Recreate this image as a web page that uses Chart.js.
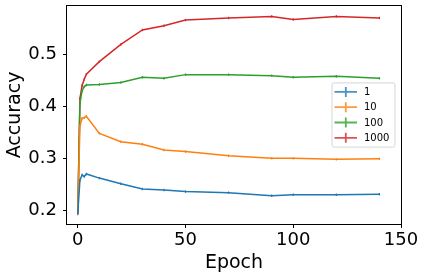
<!DOCTYPE html>
<html><head><meta charset="utf-8">
<script src="https://cdn.jsdelivr.net/npm/chart.js@4"></script>
<style>html,body{margin:0;padding:0;background:#fff}</style>
</head><body>
<canvas id="c" width="424" height="279" style="width:424px;height:279px;display:block"></canvas>
<script>
const epochs = [0, 1, 2, 3, 4, 10, 20, 30, 40, 50, 70, 90, 100, 120, 140];
const acc1    = [0.195, 0.258, 0.268, 0.265, 0.270, 0.262, 0.251, 0.241, 0.239, 0.236, 0.234, 0.228, 0.230, 0.230, 0.231];
const acc10   = [0.195, 0.362, 0.377, 0.378, 0.381, 0.348, 0.332, 0.327, 0.316, 0.313, 0.305, 0.300, 0.300, 0.298, 0.299];
const acc100  = [0.195, 0.405, 0.430, 0.438, 0.441, 0.442, 0.446, 0.456, 0.454, 0.461, 0.461, 0.459, 0.456, 0.458, 0.454];
const acc1000 = [0.193, 0.415, 0.440, 0.452, 0.462, 0.486, 0.519, 0.547, 0.555, 0.566, 0.570, 0.573, 0.567, 0.573, 0.570];
const seriesLabels = ['1', '10', '100', '1000'];
const seriesValues = [acc1, acc10, acc100, acc1000];
const colors = ['#1f77b4', '#ff7f0e', '#2ca02c', '#d62728'];
const xTicks = [0, 50, 100, 150];
const yTicks = [0.2, 0.3, 0.4, 0.5];
const xLabel = 'Epoch';
const yLabel = 'Accuracy';

const FONT = "'DejaVu Sans', sans-serif";

const datasets = seriesValues.map((vals, i) => ({
  label: seriesLabels[i],
  data: epochs.map((e, j) => ({x: e, y: vals[j]})),
  borderColor: colors[i],
  backgroundColor: colors[i],
  borderWidth: 1.5,
  pointStyle: 'line',
  rotation: 90,
  pointRadius: 1.2,
  pointBorderWidth: 1.2,
  tension: 0,
  fill: false
}));

const frameAndLegend = {
  id: 'frameAndLegend',
  afterDatasetsDraw(chart) {
    const ctx = chart.ctx, a = chart.chartArea;
    ctx.save();
    ctx.strokeStyle = '#000';
    ctx.lineWidth = 1;
    ctx.strokeRect(Math.round(a.left) - 0.5, Math.round(a.top) - 0.5, Math.round(a.right - a.left) + 1, Math.round(a.bottom - a.top) + 1);
    // legend (center right)
    const ds = chart.data.datasets;
    const rowH = 15.3, fs = 10;
    const w = 63, h = rowH * ds.length + 3;
    const x1 = a.right - 6 - w, y1 = (a.top + a.bottom) / 2 - h / 2;
    ctx.beginPath();
    const r = 2;
    ctx.moveTo(x1 + r, y1);
    ctx.arcTo(x1 + w, y1, x1 + w, y1 + h, r);
    ctx.arcTo(x1 + w, y1 + h, x1, y1 + h, r);
    ctx.arcTo(x1, y1 + h, x1, y1, r);
    ctx.arcTo(x1, y1, x1 + w, y1, r);
    ctx.closePath();
    ctx.fillStyle = 'rgba(255,255,255,0.8)';
    ctx.fill();
    ctx.strokeStyle = 'rgba(204,204,204,0.8)';
    ctx.lineWidth = 1;
    ctx.stroke();
    ctx.font = fs + 'px ' + FONT;
    ctx.textBaseline = 'middle';
    ds.forEach((d, i) => {
      const cy = y1 + 9 + i * rowH;
      ctx.globalAlpha = 0.8;
      ctx.strokeStyle = d.borderColor;
      ctx.lineWidth = 1.8;
      ctx.beginPath();
      ctx.moveTo(x1 + 2.5, cy); ctx.lineTo(x1 + 25, cy);
      ctx.moveTo(x1 + 13.8, cy - 5); ctx.lineTo(x1 + 13.8, cy + 5);
      ctx.stroke();
      ctx.globalAlpha = 1;
      ctx.fillStyle = '#000';
      ctx.fillText(d.label, x1 + 32, cy + 0.5);
    });
    ctx.restore();
  }
};

new Chart(document.getElementById('c'), {
  type: 'line',
  data: { datasets },
  options: {
    responsive: false,
    animation: false,
    devicePixelRatio: 1,
    layout: { padding: { left: 0, right: 23, top: 6, bottom: 0 } },
    plugins: { legend: { display: false }, tooltip: { enabled: false } },
    scales: {
      x: {
        type: 'linear', min: -5, max: 150,
        afterBuildTicks: s => { s.ticks = xTicks.map(v => ({value: v})); },
        afterFit: s => { s.height = 55; s.paddingLeft = 0; s.paddingRight = 0; },
        grid: { display: true, drawOnChartArea: false, drawTicks: true, tickLength: 4, color: '#000', tickWidth: 1 },
        border: { display: false },
        ticks: { color: '#000', font: { family: FONT, size: 18 }, padding: 2, maxRotation: 0, autoSkip: false },
        title: { display: true, text: xLabel, color: '#000', font: { family: FONT, size: 19 }, padding: { top: 0, bottom: 5 } }
      },
      y: {
        type: 'linear', min: 0.1737, max: 0.593,
        afterBuildTicks: s => { s.ticks = yTicks.map(v => ({value: v})); },
        afterFit: s => { s.width = 67; s.paddingTop = 0; s.paddingBottom = 0; },
        grid: { display: true, drawOnChartArea: false, drawTicks: true, tickLength: 4, color: '#000', tickWidth: 1 },
        border: { display: false },
        ticks: { color: '#000', font: { family: FONT, size: 18 }, padding: 6, callback: v => v.toFixed(1), autoSkip: false },
        title: { display: true, text: yLabel, color: '#000', font: { family: FONT, size: 19 }, padding: { top: 4, bottom: 0 } }
      }
    }
  },
  plugins: [frameAndLegend]
});
</script>
</body></html>
